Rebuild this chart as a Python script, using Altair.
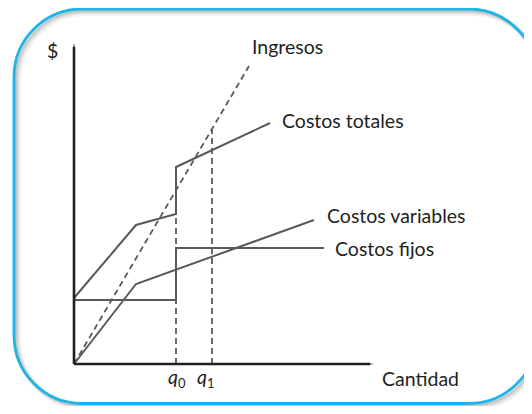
import altair as alt
import pandas as pd

# ---- data (quantity on x, dollars on y) ----
fixed_q = [0, 102, 102, 250]
fixed_v = [64, 64, 116, 116]
var_q = [0, 62, 240]
var_v = [0, 80, 144]
total_q = [0, 62, 102, 102, 196]
total_v = [66, 139, 150, 197, 241]
rev_q = [0, 175]
rev_v = [0, 298]
guide_q = [102, 138]          # q0, q1
guide_top = [150, 235]
axis_x_end = 300
axis_y_end = 321

labels = ["Ingresos", "Costos totales", "Costos variables", "Costos fijos", "Cantidad", "$"]

W, H = 516, 398
xs = alt.Scale(domain=[0, 300], range=[66, 366])
ys = alt.Scale(domain=[0, 321], range=[356, 35])

LINE = "#58595b"
INK = "#231f20"
BLUE = "#1fb4e8"
FONT = "Lato"


def series(q, v):
    return pd.DataFrame({"q": q, "v": v, "i": list(range(len(q)))})


def line_layer(df, dash=None, color=LINE, width=2.0):
    kw = dict(color=color, strokeWidth=width, clip=False)
    if dash:
        kw["strokeDash"] = dash
    return alt.Chart(df).mark_line(**kw).encode(
        x=alt.X("q:Q", scale=xs, axis=None),
        y=alt.Y("v:Q", scale=ys, axis=None),
        order="i:Q",
    )

# frame with shadow (clipped to the drawing area)
FX0, FX1, FY0, FY1 = 6, 529, 1.0, 395.5
frame_layers = []
for dx, dy, sw, op in [(4, 4, 6, 0.10), (3, 3, 4, 0.18), (2, 2, 2.5, 0.25)]:
    frame_layers.append(
        alt.Chart(pd.DataFrame({"a": [0]})).mark_rect(
            fill=None, stroke="#808080", strokeWidth=sw, strokeOpacity=op,
            cornerRadius=68, clip=True
        ).encode(x=alt.value(FX0 + dx), x2=alt.value(FX1 + dx),
                 y=alt.value(FY0 + dy), y2=alt.value(FY1 + dy))
    )
frame = alt.Chart(pd.DataFrame({"a": [0]})).mark_rect(
    fill="white", fillOpacity=0, stroke=BLUE, strokeWidth=2.8, cornerRadius=68, clip=True
).encode(x=alt.value(FX0), x2=alt.value(FX1), y=alt.value(FY0), y2=alt.value(FY1))

# guides (dashed verticals)
guides = alt.Chart(pd.DataFrame({"q": guide_q, "v0": [0, 0], "v1": guide_top})).mark_rule(
    color=LINE, strokeWidth=1.8, strokeDash=[6, 4]
).encode(
    x=alt.X("q:Q", scale=xs, axis=None),
    y=alt.Y("v0:Q", scale=ys, axis=None),
    y2="v1:Q",
)

revenue = line_layer(series(rev_q, rev_v), dash=[6, 4], width=1.8)
fixed = line_layer(series(fixed_q, fixed_v))
variable = line_layer(series(var_q, var_v))
total = line_layer(series(total_q, total_v))

# axes with arrows
axes_df = pd.DataFrame({"q": [0, 0], "v": [0, 0], "q2": [axis_x_end - 4, 0], "v2": [0, axis_y_end - 4]})
axes = alt.Chart(axes_df).mark_rule(color=INK, strokeWidth=2.6).encode(
    x=alt.X("q:Q", scale=xs, axis=None), x2="q2:Q",
    y=alt.Y("v:Q", scale=ys, axis=None), y2="v2:Q",
)
arrow_up = alt.Chart(pd.DataFrame({"q": [0], "v": [axis_y_end]})).mark_point(
    shape="M0,0L0.32,2L-0.32,2Z", filled=True, color=INK, opacity=1, size=42
).encode(x=alt.X("q:Q", scale=xs, axis=None), y=alt.Y("v:Q", scale=ys, axis=None))
arrow_right = alt.Chart(pd.DataFrame({"q": [axis_x_end], "v": [0]})).mark_point(
    shape="M0,0L-2,-0.32L-2,0.32Z", filled=True, color=INK, opacity=1, size=42
).encode(x=alt.X("q:Q", scale=xs, axis=None), y=alt.Y("v:Q", scale=ys, axis=None))

# labels
lab_df = pd.DataFrame({
    "t": labels,
    "q": [178, 208, 253, 261, 308, -27],
    "v": [316, 242, 147, 114, -16, 312],
})
texts = alt.Chart(lab_df).mark_text(
    align="left", baseline="middle", font=FONT, fontSize=19.5, color=INK, clip=False
).encode(x=alt.X("q:Q", scale=xs, axis=None), y=alt.Y("v:Q", scale=ys, axis=None), text="t:N")

q_df = pd.DataFrame({"t": ["q", "q"], "q": [94, 123], "v": [-14, -14]})
q_text = alt.Chart(q_df).mark_text(
    align="left", baseline="middle", font=FONT, fontSize=19.5, fontStyle="italic", color=INK
).encode(x=alt.X("q:Q", scale=xs, axis=None), y=alt.Y("v:Q", scale=ys, axis=None), text="t:N")
sub_df = pd.DataFrame({"t": ["0", "1"], "q": [104, 133], "v": [-20, -20]})
sub_text = alt.Chart(sub_df).mark_text(
    align="left", baseline="middle", font=FONT, fontSize=13, color=INK
).encode(x=alt.X("q:Q", scale=xs, axis=None), y=alt.Y("v:Q", scale=ys, axis=None), text="t:N")

chart = alt.layer(
    *frame_layers, frame, guides, revenue, fixed, variable, total, axes, arrow_up, arrow_right,
    texts, q_text, sub_text
).properties(
    width=W, height=H, autosize=alt.AutoSizeParams(type="none"), padding=0
).configure_view(stroke=None)

chart.save("out.html", embed_options={"renderer": "svg", "actions": False})
